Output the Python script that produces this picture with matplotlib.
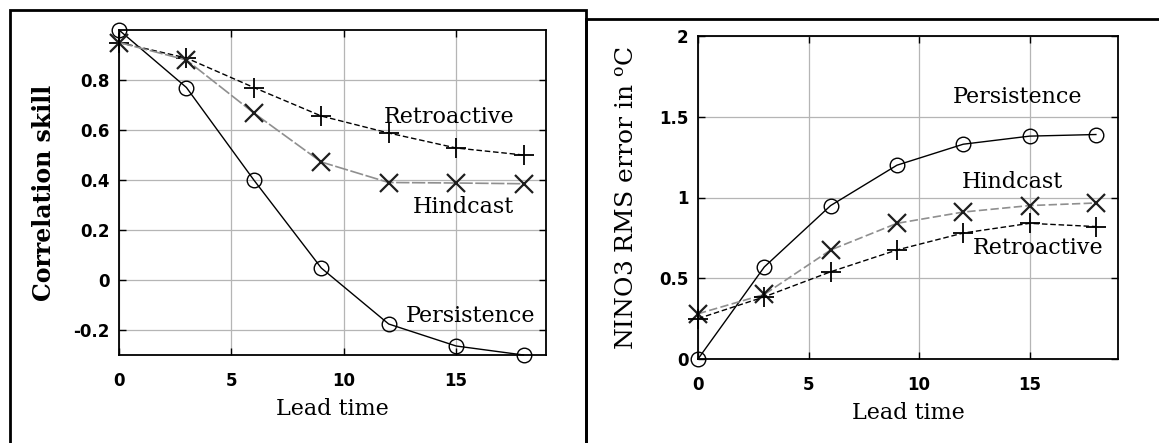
import matplotlib
matplotlib.use("Agg")
import matplotlib.pyplot as plt
from matplotlib.patches import Rectangle

# lead times (months)
lead = [0, 3, 6, 9, 12, 15, 18]

# left panel: correlation skill
corr_persistence = [1.00, 0.77, 0.40, 0.048, -0.176, -0.264, -0.30]
corr_retroactive = [0.95, 0.888, 0.77, 0.656, 0.588, 0.528, 0.50]
corr_hindcast = [0.95, 0.88, 0.668, 0.472, 0.39, 0.388, 0.385]

# right panel: NINO3 RMS error
rms_persistence = [0.00, 0.57, 0.95, 1.20, 1.33, 1.38, 1.39]
rms_hindcast = [0.28, 0.40, 0.675, 0.84, 0.91, 0.95, 0.966]
rms_retroactive = [0.25, 0.385, 0.54, 0.675, 0.78, 0.84, 0.82]

xticks = [0, 5, 10, 15]
corr_yticks = [-0.2, 0, 0.2, 0.4, 0.6, 0.8]
corr_yticklabels = ["-0.2", "0", "0.2", "0.4", "0.6", "0.8"]
rms_yticks = [0, 0.5, 1, 1.5, 2]
rms_yticklabels = ["0", "0.5", "1", "1.5", "2"]

plt.rcParams["font.family"] = "DejaVu Serif"
plt.rcParams["mathtext.fontset"] = "dejavuserif"

W, H = 1159, 443
fig = plt.figure(figsize=(W / 100, H / 100), dpi=100)

# outer frames around the two panels
fig.patches.append(Rectangle((10 / W, -0.05), (586 - 10) / W, 1.05 - 10 / H,
                             transform=fig.transFigure, fill=False, lw=2, ec="black"))
fig.patches.append(Rectangle((586 / W, -0.05), 1.1, 1.05 - 19 / H,
                             transform=fig.transFigure, fill=False, lw=2, ec="black"))

tick_font = {"family": "DejaVu Sans", "weight": "bold", "size": 12}
note = {"fontsize": 16, "ha": "center", "va": "center"}


def style_axes(ax):
    ax.grid(True, color="#b5b5b5", lw=0.9)
    ax.set_axisbelow(True)
    ax.tick_params(direction="in", top=True, right=True, length=5, width=1)
    ax.tick_params(axis="x", pad=12)
    ax.tick_params(axis="y", pad=7)
    for s in ax.spines.values():
        s.set_linewidth(1.3)
    ax.set_xticks(xticks)
    ax.set_xticklabels([str(t) for t in xticks], fontdict=tick_font)
    ax.set_xlim(0, 19)
    ax.set_xlabel("Lead time", fontsize=16, labelpad=6)


# left panel
ax1 = fig.add_axes([119 / W, 1 - 355 / H, (546 - 119) / W, (355 - 30) / H])
ax1.plot(lead, corr_persistence, "-", color="black", lw=1, marker="o",
         ms=10.5, mfc="none", mec="black", clip_on=False)
ax1.plot(lead, corr_retroactive, color="black", lw=1, marker="+",
         ms=14, mew=1.3, clip_on=False, dashes=(4, 2))
ax1.plot(lead, corr_hindcast, color="#8f8f8f", lw=1.2, marker="x",
         ms=13, mew=1.6, mec="#1e1e1e", clip_on=False, dashes=(8, 1.5))
ax1.set_ylim(-0.3, 1.0)
ax1.set_yticks(corr_yticks)
ax1.set_yticklabels(corr_yticklabels, fontdict=tick_font)
style_axes(ax1)
ax1.set_ylabel("Correlation skill", fontsize=17, weight="bold", labelpad=12)
ax1.text(14.67, 0.652, "Retroactive", **note)
ax1.text(15.33, 0.292, "Hindcast", **note)
ax1.text(15.65, -0.144, "Persistence", **note)

# right panel
ax2 = fig.add_axes([698 / W, 1 - 359 / H, (1118 - 698) / W, (359 - 36) / H])
ax2.plot(lead, rms_persistence, "-", color="black", lw=1, marker="o",
         ms=10.5, mfc="none", mec="black", clip_on=False)
ax2.plot(lead, rms_hindcast, color="#8f8f8f", lw=1.2, marker="x",
         ms=13, mew=1.6, mec="#1e1e1e", clip_on=False, dashes=(5, 2))
ax2.plot(lead, rms_retroactive, color="black", lw=1, marker="+",
         ms=14, mew=1.3, clip_on=False, dashes=(4, 2))
ax2.set_ylim(0, 2)
ax2.set_yticks(rms_yticks)
ax2.set_yticklabels(rms_yticklabels, fontdict=tick_font)
style_axes(ax2)
ax2.set_ylabel("NINO3 RMS error in $^\\mathregular{o}$C", fontsize=18, labelpad=14)
ax2.text(14.46, 1.62, "Persistence", **note)
ax2.text(14.2, 1.096, "Hindcast", **note)
ax2.text(15.4, 0.687, "Retroactive", **note)

fig.savefig("out.png", dpi=100)
